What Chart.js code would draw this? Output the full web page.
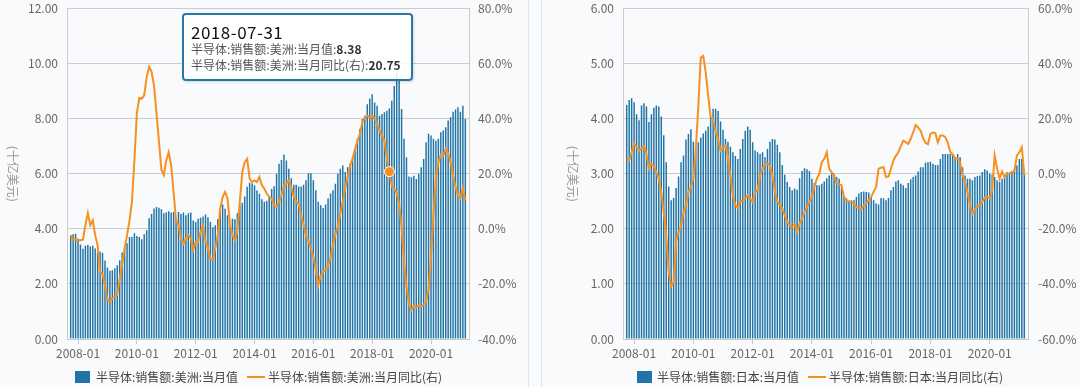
<!DOCTYPE html>
<html>
<head>
<meta charset="utf-8">
<script src="https://cdn.jsdelivr.net/npm/chart.js@4.4.1/dist/chart.umd.min.js"></script>
<style>
    body { margin: 0; width: 1080px; height: 387px; overflow: hidden; background: #f9fafc;
           font-family: 'Noto Sans CJK SC', 'Noto Sans', sans-serif; position: relative; }
    .cv { position: absolute; top: 0; height: 387px; }
    .sep { position: absolute; top: 0; width: 1px; height: 387px; background: #e1e4e8; }
    .lg { position: absolute; top: 369px; height: 16px; line-height: 16px; font-size: 12px; color: #444; white-space: nowrap; }
    .sw { position: absolute; top: 371px; width: 15px; height: 12px; background: #2175a6; }
    .ln { position: absolute; top: 376px; width: 18px; height: 2px; background: #f7901e; }
    #tip { position: absolute; left: 182px; top: 13px; width: 227px; height: 64px; background: rgba(255,255,255,0.86);
           border: 2px solid #2a77a6; border-radius: 4px; box-shadow: 1px 1px 3px rgba(0,0,0,0.15); }
    #tip .tt { position: absolute; left: 7px; top: 4px; font-size: 17px; letter-spacing: 0.5px; color: #111; }
    #tip .l { position: absolute; left: 7px; font-size: 12px; color: #555; white-space: nowrap; }
    #tip b { color: #333; }
</style>
</head>
<body>
<div class="sep" style="left:528px"></div>
<div class="sep" style="left:541px"></div>
<div class="cv" style="left:0;width:528px"><canvas id="chartAm" width="528" height="387"></canvas></div>
<div class="cv" style="left:541px;width:539px"><canvas id="chartJp" width="539" height="387"></canvas></div>

<span class="sw" style="left:75px"></span><span class="lg" style="left:96px" id="lgAmBar"></span>
<span class="ln" style="left:247px"></span><span class="lg" style="left:268px" id="lgAmLine"></span>
<span class="sw" style="left:637px"></span><span class="lg" style="left:657px" id="lgJpBar"></span>
<span class="ln" style="left:808px"></span><span class="lg" style="left:829px" id="lgJpLine"></span>

<div id="tip"></div>

<script>
// months 2007-09 .. 2021-02 (end-of-month data)
const firstYear = 2007, firstMonth = 9, monthCount = 162;
const months = [];
for (let k = 0; k < monthCount; k++) {
    const m = firstMonth - 1 + k;
    const y = firstYear + Math.floor(m / 12);
    months.push(y + '-' + String(m % 12 + 1).padStart(2, '0'));
}

// Americas, monthly sales (billion USD)
const amSales = [
    3.77, 3.80, 3.82, 3.65,
    3.43, 3.28, 3.39, 3.41, 3.36, 3.39, 3.29, 3.15, 3.17, 3.12, 2.85, 2.60,
    2.48, 2.50, 2.57, 2.68, 2.86, 3.14, 3.30, 3.48, 3.70, 3.70, 3.84, 3.74,
    3.70, 3.62, 3.80, 3.95, 4.38, 4.54, 4.74, 4.79, 4.77, 4.71, 4.57, 4.60,
    4.64, 4.59, 4.61, 4.32, 4.61, 4.54, 4.59, 4.49, 4.57, 4.59, 4.30, 4.25,
    4.37, 4.40, 4.45, 4.52, 4.42, 4.25, 4.06, 4.13, 4.35, 4.71, 4.88, 4.73,
    4.49, 4.13, 4.37, 4.35, 4.57, 4.86, 4.95, 5.17, 5.53, 5.67, 5.65, 5.58,
    5.39, 5.27, 5.07, 4.98, 5.02, 5.19, 5.45, 5.55, 6.00, 6.36, 6.50, 6.70,
    6.48, 6.18, 5.84, 5.60, 5.60, 5.54, 5.54, 5.60, 5.76, 6.02, 6.02, 5.76,
    5.40, 4.98, 4.86, 4.76, 4.88, 5.10, 5.28, 5.40, 5.64, 6.00, 6.18, 6.30,
    6.06, 6.24, 6.36, 6.60, 6.90, 7.27, 7.63, 7.99, 8.11, 8.52, 8.73, 8.89,
    8.59, 8.47, 8.11, 8.17, 8.23, 8.29, 8.38, 8.65, 9.19, 9.67, 9.47, 8.35,
    7.27, 6.60, 5.90, 5.87, 5.93, 5.81, 6.00, 6.24, 6.54, 7.14, 7.45, 7.39,
    7.27, 7.20, 7.27, 7.51, 7.57, 7.69, 7.93, 8.05, 8.25, 8.33, 8.41, 8.25,
    8.47, 7.99
];
// Americas, year-on-year (%)
const amYoy = [
    -2.3, -4.0, -4.0, -4.1,
    -4.1, -3.9, 1.3, 5.7, 1.3, 3.1, -2.3, -5.9, -15.5, -16.5, -20.4, -25.8,
    -26.4, -25.2, -24.6, -24.0, -18.0, -13.1, -7.1, -2.3, 3.0, 10.0, 25.0, 42.0,
    47.5, 47.3, 48.5, 55.0, 58.8, 57.0, 52.0, 42.0, 32.0, 21.5, 19.5, 24.8,
    27.8, 23.0, 13.0, 3.1, 1.3, -3.5, -5.3, -3.5, -2.3, -3.5, -7.7, -4.7,
    -4.7, -1.1, 1.3, -4.7, -7.1, -10.7, -11.3, -7.1, -2.3, 7.3, 11.6, 13.4,
    11.0, 1.3, -2.3, -4.1, -1.1, 9.8, 20.6, 24.2, 25.4, 18.2, 17.0, 17.6,
    17.0, 18.8, 15.8, 14.6, 12.8, 11.6, 11.0, 8.6, 8.0, 9.8, 12.2, 15.8,
    16.4, 17.6, 15.2, 11.6, 9.8, 9.0, 5.0, 1.5, -2.5, -4.5, -7.0, -10.0,
    -15.0, -20.5, -17.0, -15.5, -15.0, -13.5, -10.5, -6.0, -2.0, 1.0, 5.5, 10.0,
    14.5, 19.0, 23.0, 25.4, 29.0, 32.0, 34.5, 38.7, 40.5, 41.1, 40.5, 41.1,
    39.9, 38.1, 35.7, 33.9, 32.0, 25.4, 20.75, 15.5, 14.6, 13.0, 9.0, 0.5,
    -12.0, -21.0, -27.5, -29.5, -28.0, -28.5, -27.8, -28.2, -27.5, -26.5, -22.0, -10.0,
    5.0, 19.0, 24.0, 27.0, 26.5, 29.0, 27.5, 24.2, 19.5, 15.2, 12.2, 11.0,
    14.8, 10.4
];
// Japan, monthly sales (billion USD)
const jpSales = [
    4.25, 4.34, 4.37, 4.30,
    4.08, 3.97, 4.24, 4.28, 4.22, 3.94, 4.08, 4.20, 4.24, 4.22, 4.04, 3.70,
    3.21, 2.77, 2.52, 2.56, 2.74, 2.95, 3.21, 3.33, 3.62, 3.72, 3.81, 3.58,
    3.42, 3.57, 3.66, 3.73, 3.78, 3.86, 4.02, 4.18, 4.18, 4.14, 3.95, 3.80,
    3.63, 3.58, 3.49, 3.39, 3.32, 3.27, 3.45, 3.63, 3.78, 3.86, 3.80, 3.57,
    3.42, 3.39, 3.36, 3.39, 3.30, 3.45, 3.58, 3.63, 3.62, 3.52, 3.39, 3.16,
    2.98, 2.85, 2.76, 2.70, 2.73, 2.71, 2.92, 3.05, 3.10, 3.08, 3.05, 2.91,
    2.83, 2.79, 2.79, 2.82, 2.86, 2.92, 2.97, 3.00, 3.00, 2.94, 2.91, 2.76,
    2.58, 2.55, 2.50, 2.52, 2.52, 2.58, 2.64, 2.67, 2.68, 2.67, 2.66, 2.58,
    2.52, 2.46, 2.44, 2.56, 2.55, 2.52, 2.56, 2.70, 2.76, 2.86, 2.88, 2.82,
    2.79, 2.74, 2.83, 2.90, 2.94, 2.97, 3.04, 3.12, 3.12, 3.20, 3.21, 3.22,
    3.18, 3.16, 3.16, 3.27, 3.36, 3.36, 3.36, 3.36, 3.36, 3.30, 3.36, 3.30,
    3.12, 2.97, 2.91, 2.91, 2.88, 2.94, 2.96, 2.97, 3.03, 3.08, 3.06, 3.00,
    2.98, 2.94, 2.88, 2.85, 2.91, 2.97, 3.03, 3.00, 3.05, 3.09, 3.15, 3.27,
    3.27, 3.00
];
// Japan, year-on-year (%)
const jpYoy = [
    5.2, 4.8, 7.8, 11.1,
    9.6, 8.4, 9.3, 10.0, 7.2, 1.8, 3.6, 2.8, 0.6, -1.8, -6.6, -13.9,
    -22.3, -35.5, -41.0, -39.2, -24.7, -21.1, -19.3, -13.9, -11.4, -6.6, -4.8, -1.8,
    9.0, 24.7, 42.2, 42.8, 36.7, 28.3, 20.5, 19.9, 15.1, 12.7, 8.4, 9.6,
    10.2, 6.0, -0.6, -7.8, -11.4, -12.4, -10.2, -9.6, -9.0, -7.8, -9.0, -10.2,
    -6.6, -6.0, -0.6, 1.8, 3.6, 3.6, 3.0, -0.6, -6.6, -10.2, -11.2, -12.6,
    -15.1, -17.5, -18.7, -19.3, -18.4, -21.1, -18.1, -16.3, -13.9, -12.0, -10.2, -8.4,
    -4.8, -1.8, 0.0, 4.2, 5.4, 7.8, 1.8, 0.5, -0.6, -3.6, -3.8, -4.2,
    -8.4, -9.6, -10.0, -10.2, -11.0, -12.0, -12.4, -12.9, -11.4, -10.8, -9.5, -8.4,
    -6.5, -4.8, 1.8, 2.2, 2.4, -1.2, -1.0, 1.8, 4.8, 6.5, 7.8, 10.0,
    12.0, 11.5, 10.8, 12.7, 15.0, 17.7, 16.8, 15.7, 13.0, 11.2, 10.8, 14.5,
    15.0, 14.8, 11.4, 13.9, 13.9, 13.3, 11.4, 8.0, 7.0, 5.6, 5.4, 4.2,
    -0.5, -3.0, -6.6, -11.4, -14.5, -13.0, -12.0, -11.5, -10.2, -8.6, -8.4, -9.0,
    -6.0, 6.6, 1.8, -1.8, 0.8, -1.2, 0.0, 0.2, 0.6, 1.0, 6.6, 7.8,
    9.6, -0.5
];

const amSalesTicks = [0, 2, 4, 6, 8, 10, 12];
const amYoyTicks = [-40, -20, 0, 20, 40, 60, 80];
const jpSalesTicks = [0, 1, 2, 3, 4, 5, 6];
const jpYoyTicks = [-60, -40, -20, 0, 20, 40, 60];

const names = {
    amBar: '半导体:销售额:美洲:当月值',
    amLine: '半导体:销售额:美洲:当月同比(右)',
    jpBar: '半导体:销售额:日本:当月值',
    jpLine: '半导体:销售额:日本:当月同比(右)'
};
const unitTitle = '(十亿美元)';
const tipMonth = '2018-07';

[amSales, amYoy, jpSales, jpYoy].forEach(a => {
    if (a.length !== monthCount) throw new Error('series length ' + a.length);
});

const blue = '#2175a6';
const orange = '#f7901e';
const gridColor = '#c9cbcf';
const axisColor = '#c3ccd6';
const fontFamily = "'Noto Sans CJK SC', 'Noto Sans', sans-serif";

Chart.defaults.font.family = fontFamily;
Chart.defaults.font.size = 12;
Chart.defaults.color = '#666';

// one empty slot each side, the original axis leaves some room at both ends
const labels = [''].concat(months, ['']);
const pad = arr => [null].concat(arr, [null]);

const yTitlePlugin = {
    id: 'yTitle',
    afterDraw(chart, args, opts) {
        const { ctx, chartArea } = chart;
        ctx.save();
        ctx.translate(opts.x, (chartArea.top + chartArea.bottom) / 2);
        ctx.rotate(Math.PI / 2);
        ctx.fillStyle = '#999';
        ctx.font = '12px ' + fontFamily;
        ctx.textAlign = 'center';
        ctx.textBaseline = 'middle';
        ctx.fillText(opts.text, 0, 0);
        ctx.restore();
    }
};

function fixedTicks(values) {
    return function(scale) {
        scale.ticks = values.map(v => ({ value: v }));
    };
}

// fixed axis width, and no extra room reserved for the end labels
function fixWidth(w) {
    return function(scale) {
        scale.width = w;
        scale.paddingTop = 0;
        scale.paddingBottom = 0;
    };
}

function makeChart(id, o) {
    const markIdx = o.mark == null ? -1 : o.mark + 1;
    return new Chart(document.getElementById(id), {
        type: 'bar',
        plugins: [yTitlePlugin],
        data: {
            labels: labels,
            datasets: [
                {
                    type: 'line',
                    label: o.lineName,
                    data: pad(o.yoy),
                    yAxisID: 'y1',
                    order: 0,
                    borderColor: orange,
                    borderWidth: 2,
                    tension: 0,
                    pointRadius: c => c.dataIndex === markIdx ? 5 : 0,
                    pointBackgroundColor: orange,
                    pointBorderColor: '#ffffff',
                    pointBorderWidth: 1
                },
                {
                    type: 'bar',
                    label: o.barName,
                    data: pad(o.sales),
                    yAxisID: 'y',
                    order: 1,
                    backgroundColor: blue,
                    borderWidth: 0,
                    barPercentage: 0.6,
                    categoryPercentage: 1
                }
            ]
        },
        options: {
            responsive: false,
            animation: false,
            events: [],
            layout: { padding: { top: 8.5, bottom: 18, left: 0, right: 0 } },
            plugins: {
                legend: { display: false },
                tooltip: { enabled: false },
                yTitle: { text: unitTitle, x: o.titleX }
            },
            scales: {
                x: {
                    type: 'category',
                    offset: true,
                    grid: { display: true, drawOnChartArea: false, drawTicks: true, tickLength: 5, offset: false, color: axisColor },
                    border: { display: true, color: axisColor },
                    ticks: {
                        autoSkip: false,
                        maxRotation: 0,
                        padding: 2,
                        callback: function(v) {
                            const l = labels[v];
                            return (parseInt(l.slice(0, 4)) + 1) + '-01';
                        }
                    },
                    afterBuildTicks: function(scale) {
                        scale.ticks = scale.ticks.filter(t => {
                            const l = labels[t.value];
                            return l && l.endsWith('-12') && parseInt(l.slice(0, 4)) % 2 === 1;
                        });
                    },
                    afterFit: function(scale) {
                        scale.height = 30;
                        scale.paddingLeft = 0;
                        scale.paddingRight = 0;
                    }
                },
                y: {
                    position: 'left',
                    min: o.salesTicks[0],
                    max: o.salesTicks[o.salesTicks.length - 1],
                    grid: { color: gridColor, drawTicks: false },
                    border: { display: true, color: gridColor },
                    ticks: { padding: 9, callback: v => v.toFixed(2) },
                    afterBuildTicks: fixedTicks(o.salesTicks),
                    afterFit: fixWidth(o.leftWidth)
                },
                y1: {
                    position: 'right',
                    min: o.yoyTicks[0],
                    max: o.yoyTicks[o.yoyTicks.length - 1],
                    grid: { drawOnChartArea: false, drawTicks: false },
                    border: { display: true, color: gridColor },
                    ticks: { padding: o.rightPad, callback: v => v.toFixed(1) + '%' },
                    afterBuildTicks: fixedTicks(o.yoyTicks),
                    afterFit: fixWidth(o.rightWidth)
                }
            }
        }
    });
}

const tipIdx = months.indexOf(tipMonth);

makeChart('chartAm', {
    sales: amSales, yoy: amYoy, salesTicks: amSalesTicks, yoyTicks: amYoyTicks,
    barName: names.amBar, lineName: names.amLine,
    leftWidth: 67, rightWidth: 59, rightPad: 9, titleX: 12.5, mark: tipIdx
});
makeChart('chartJp', {
    sales: jpSales, yoy: jpYoy, salesTicks: jpSalesTicks, yoyTicks: jpYoyTicks,
    barName: names.jpBar, lineName: names.jpLine,
    leftWidth: 82, rightWidth: 52, rightPad: 10, titleX: 32, mark: null
});

document.getElementById('lgAmBar').textContent = names.amBar;
document.getElementById('lgAmLine').textContent = names.amLine;
document.getElementById('lgJpBar').textContent = names.jpBar;
document.getElementById('lgJpLine').textContent = names.jpLine;

// static tooltip for the hovered month
const [ty, tm] = tipMonth.split('-').map(Number);
const lastDay = new Date(ty, tm, 0).getDate();
document.getElementById('tip').innerHTML =
    '<div class="tt">' + tipMonth + '-' + lastDay + '</div>' +
    '<div class="l" style="top:25px">' + names.amBar + ':<b>' + amSales[tipIdx].toFixed(2) + '</b></div>' +
    '<div class="l" style="top:41px">' + names.amLine + ':<b>' + amYoy[tipIdx].toFixed(2) + '</b></div>';
</script>
</body>
</html>
